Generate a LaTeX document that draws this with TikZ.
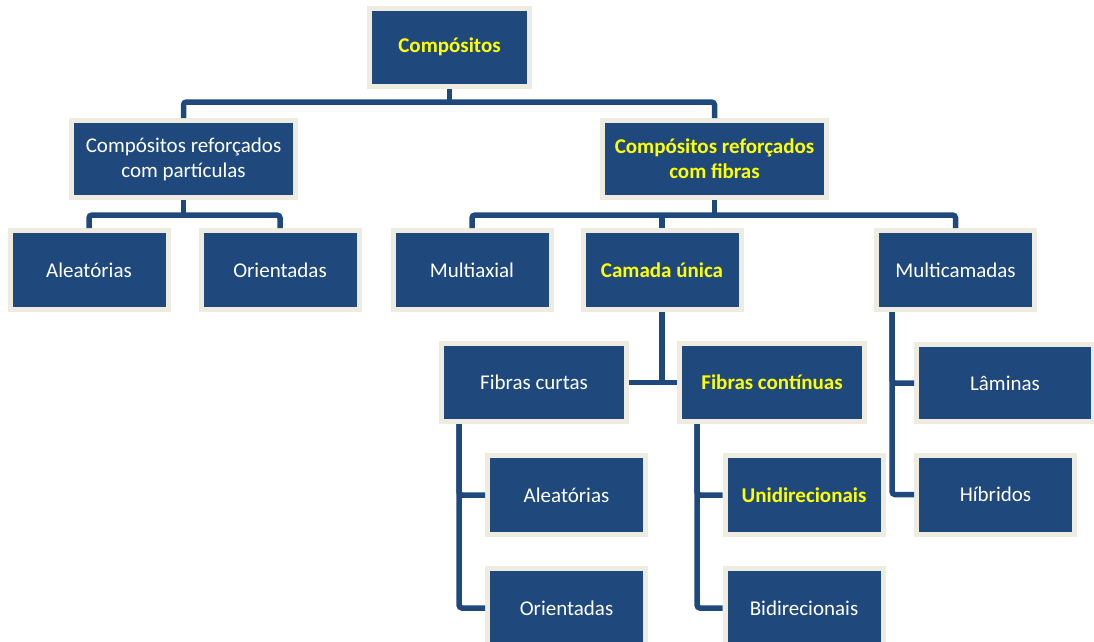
\documentclass[tikz,border=0pt]{standalone}
\usepackage{fontspec}
\setmainfont{Carlito}
\usepackage{tikz}
\usetikzlibrary{calc}
\definecolor{boxblue}{HTML}{1F497D}
\definecolor{boxcream}{HTML}{EEECE1}
\definecolor{hlyellow}{HTML}{FFFF00}

\begin{document}
\begin{tikzpicture}[
			x=1pt, y=-1pt,
			box/.style={rectangle, fill=boxblue, draw=boxcream, line width=5pt,
					outer sep=2.5pt, inner sep=0pt, align=center, text=white,
					font=\fontsize{21}{25}\selectfont,
					minimum width=158pt, minimum height=79pt},
			hl/.style={text=hlyellow, font=\fontsize{21}{25}\selectfont\bfseries},
			link/.style={draw=boxblue, line width=5.5pt, rounded corners=3pt}
		]
		\clip (0,0) rectangle (1094,641);

		% --- Top ---
		\node[box, hl, minimum width=160pt, minimum height=78pt] (comp) at (449.5,47) {Compósitos};

		% --- Second level ---
		\node[box, minimum width=224pt, minimum height=77pt] (crp) at (183.5,159) {Compósitos reforçados\\com partículas};
		\node[box, hl, minimum width=224pt, minimum height=77pt] (crf) at (714.5,159) {Compósitos reforçados\\com fibras};

		% --- Third level ---
		\node[box] (ale1) at (89,270) {Aleatórias};
		\node[box] (ori1) at (280,270) {Orientadas};
		\node[box] (multi) at (472,270) {Multiaxial};
		\node[box, hl] (camada) at (662,270) {Camada única};
		\node[box] (multic) at (955.5,270) {Multicamadas};

		% --- Fourth level ---
		\node[box, minimum width=185pt, minimum height=78pt] (fcurtas) at (534,382.5) {Fibras curtas};
		\node[box, hl, minimum width=185pt, minimum height=78pt] (fcont) at (772,382.5) {Fibras contínuas};
		\node[box, minimum width=177pt, minimum height=77pt] (laminas) at (1005,383) {Lâminas};

		% --- Leaves ---
		\node[box] (ale2) at (566.5,495) {Aleatórias};
		\node[box] (ori2) at (566.5,608) {Orientadas};
		\node[box, hl] (uni) at (804,495) {Unidirecionais};
		\node[box] (bid) at (804,608) {Bidirecionais};
		\node[box] (hib) at (995.5,494.5) {Híbridos};

		% --- Connectors ---
		\coordinate (bus1) at (449.5,102);
		\draw[link] (comp.south) -- (bus1);
		\draw[link] (crp.north) |- (bus1) -| (crf.north);

		\coordinate (bus2) at (183.5,215);
		\draw[link] (crp.south) -- (bus2);
		\draw[link] (ale1.north) |- (bus2) -| (ori1.north);

		\coordinate (bus3) at (714.5,215);
		\draw[link] (crf.south) -- (bus3);
		\draw[link] (multi.north) |- (bus3) -| (multic.north);
		\draw[link] (camada.north) -- (camada.north |- bus3);

		\draw[link] (camada.south) -- (camada.south |- fcurtas.east);
		\draw[link] (fcurtas.east) -- (fcont.west);

		\coordinate (fc1) at ($(fcurtas.south west)+(20,0)$);
		\draw[link] (fc1) |- (ale2.west);
		\draw[link] (fc1) |- (ori2.west);

		\coordinate (fc2) at ($(fcont.south west)+(20,0)$);
		\draw[link] (fc2) |- (uni.west);
		\draw[link] (fc2) |- (bid.west);

		\coordinate (mc1) at ($(multic.south west)+(18,0)$);
		\draw[link] (mc1) |- (laminas.west);
		\draw[link] (mc1) |- (hib.west);

	\end{tikzpicture}
\end{document}
